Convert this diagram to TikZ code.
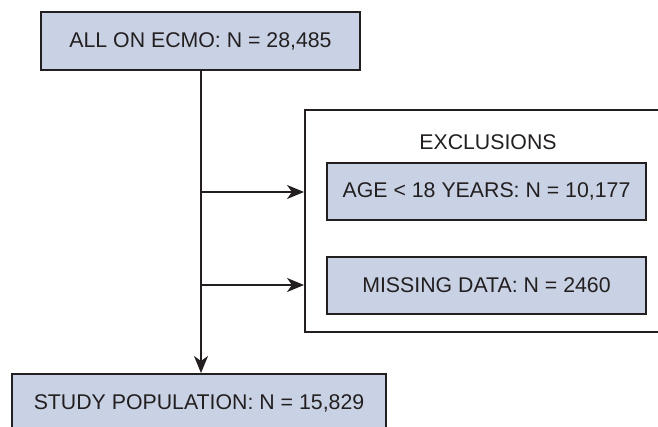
\documentclass[tikz,border=0pt]{standalone}
\usepackage{fontspec}
\setmainfont{Liberation Sans}
\usetikzlibrary{arrows.meta}
\definecolor{boxfill}{RGB}{201,210,228}
\definecolor{ink}{RGB}{35,31,32}
\begin{document}
\begin{tikzpicture}[x=1pt,y=-1pt,
  bluebox/.style={draw=ink,line width=2pt,fill=boxfill,inner sep=0pt,
    minimum height=57pt,text=ink,font=\fontsize{21.3}{24}\selectfont},
  framebox/.style={draw=ink,line width=2pt,fill=white,inner sep=0pt},
  conn/.style={draw=ink,line width=1.6pt},
  arr/.style={conn,-{Stealth[length=17pt,width=14pt,inset=5pt]}}]
\useasboundingbox (0,0) rectangle (658,427);
\clip (0,0) rectangle (658,427);
\fill[white] (0,0) rectangle (658,427);
\node[bluebox,minimum width=319pt,minimum height=58pt] (all) at (200.5,41) {ALL ON ECMO: N = 28,485};
\node[framebox,minimum width=366pt,minimum height=222pt] (excl) at (488,221) {};
\node[text=ink,font=\fontsize{21.3}{24}\selectfont,inner sep=0pt] (exclt) at (488,142) {EXCLUSIONS};
\node[bluebox,minimum width=319pt] (age) at (486.5,191.5) {AGE < 18 YEARS: N = 10,177};
\node[bluebox,minimum width=319pt] (miss) at (486.5,285.5) {MISSING DATA: N = 2460};
\node[bluebox,minimum width=374pt,minimum height=58pt] (study) at (199,403) {STUDY POPULATION: N = 15,829};
\coordinate (j1) at (201,192);
\coordinate (j2) at (201,285);
\draw[arr] (all.south -| j1) -- (study.north -| j1);
\draw[arr] (j1) -- (j1 -| excl.west);
\draw[arr] (j2) -- (j2 -| excl.west);
\end{tikzpicture}
\end{document}
